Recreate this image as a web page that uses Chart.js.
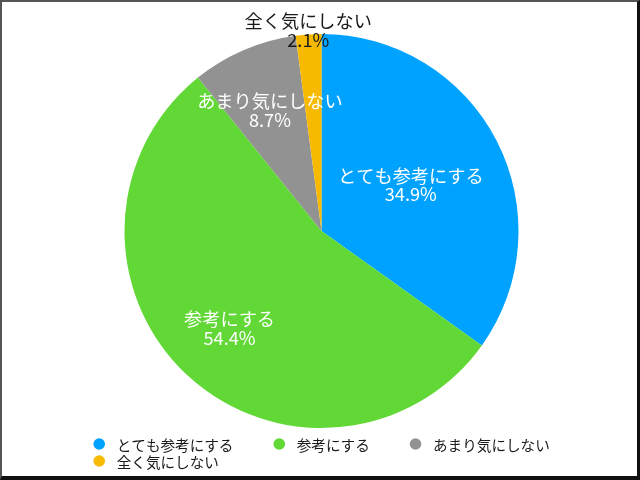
<!DOCTYPE html>
<html>
<head>
<meta charset="utf-8">
<script src="https://cdn.jsdelivr.net/npm/chart.js@4/dist/chart.umd.min.js"></script>
<style>
  html, body { margin: 0; padding: 0; background: #fff; }
  #frame {
    position: absolute; left: 0; top: 0; width: 640px; height: 480px;
    box-sizing: border-box; background: #fff;
    border-top: 2px solid #555; border-left: 2px solid #555;
    border-right: 3px solid #111; border-bottom: 4px solid #111;
  }
  #wrap { position: relative; width: 100%; height: 100%; }
</style>
</head>
<body>
<div id="frame"><div id="wrap"><canvas id="c"></canvas></div></div>
<script>
// ---- data ----
const categories = ['とても参考にする', '参考にする', 'あまり気にしない', '全く気にしない'];
const percentages = [34.9, 54.4, 8.7, 2.1];
const sliceColors = ['#00A2FF', '#61D836', '#929292', '#F8BA00'];

const FONT = '"Noto Sans CJK JP", "Noto Sans", sans-serif';

// labels drawn at the middle angle of each slice
const sliceLabelPlugin = {
  id: 'sliceLabels',
  afterDatasetsDraw(chart, args, opts) {
    const ctx = chart.ctx;
    const meta = chart.getDatasetMeta(0);
    const values = chart.data.datasets[0].data;
    ctx.save();
    ctx.font = opts.fontSize + 'px ' + FONT;
    ctx.textAlign = 'center';
    ctx.textBaseline = 'middle';
    meta.data.forEach((arc, i) => {
      const p = arc.getProps(['x', 'y', 'startAngle', 'endAngle', 'outerRadius'], true);
      const mid = (p.startAngle + p.endAngle) / 2;
      const r = p.outerRadius * opts.radial[i];
      const cx = p.x + Math.cos(mid) * r;
      const cy = p.y + Math.sin(mid) * r;
      ctx.fillStyle = opts.colors[i];
      const lh = opts.lineHeight;
      ctx.fillText(chart.data.labels[i], cx, cy - lh / 2);
      ctx.fillText(values[i].toFixed(1) + '%', cx, cy + lh / 2);
    });
    ctx.restore();
  }
};

// legend with circle markers, wrapping rows, left aligned
const bottomLegendPlugin = {
  id: 'bottomLegend',
  afterDraw(chart, args, opts) {
    const ctx = chart.ctx;
    const ds = chart.data.datasets[0];
    ctx.save();
    ctx.font = opts.fontSize + 'px ' + FONT;
    ctx.textAlign = 'left';
    ctx.textBaseline = 'middle';
    const left = opts.left;
    const maxRight = chart.width - opts.rightLimit;
    let x = left, y = chart.height - opts.bottom;
    chart.data.labels.forEach((lab, i) => {
      const tw = ctx.measureText(lab).width;
      const w = opts.markerR + opts.textGap + tw;
      if (x !== left && x + w > maxRight) {
        x = left; y += opts.rowHeight;
      }
      ctx.fillStyle = ds.backgroundColor[i];
      ctx.beginPath();
      ctx.arc(x + opts.markerR, y, opts.markerR, 0, Math.PI * 2);
      ctx.fill();
      ctx.fillStyle = opts.color;
      ctx.fillText(lab, x + opts.markerR + opts.textGap, y + 1);
      x += w + opts.itemGap;
    });
    ctx.restore();
  }
};

new Chart(document.getElementById('c'), {
  type: 'pie',
  data: {
    labels: categories,
    datasets: [{
      data: percentages,
      backgroundColor: sliceColors,
      borderWidth: 0,
      hoverOffset: 0
    }]
  },
  options: {
    responsive: true,
    maintainAspectRatio: false,
    animation: false,
    layout: { padding: { top: 32, bottom: 48, left: 92, right: 88 } },
    plugins: {
      legend: { display: false },
      tooltip: { enabled: false },
      sliceLabels: {
        fontSize: 18.2,
        lineHeight: 18.5,
        radial: [0.51, 0.68, 0.665, 1.02],
        colors: ['#ffffff', '#ffffff', '#ffffff', '#1a1a1a']
      },
      bottomLegend: {
        fontSize: 14.6,
        left: 91.4,
        rightLimit: 50,
        bottom: 32,
        rowHeight: 17,
        markerR: 5.8,
        textGap: 17.5,
        itemGap: 40,
        color: '#1a1a1a'
      }
    }
  },
  plugins: [sliceLabelPlugin, bottomLegendPlugin]
});
</script>
</body>
</html>
